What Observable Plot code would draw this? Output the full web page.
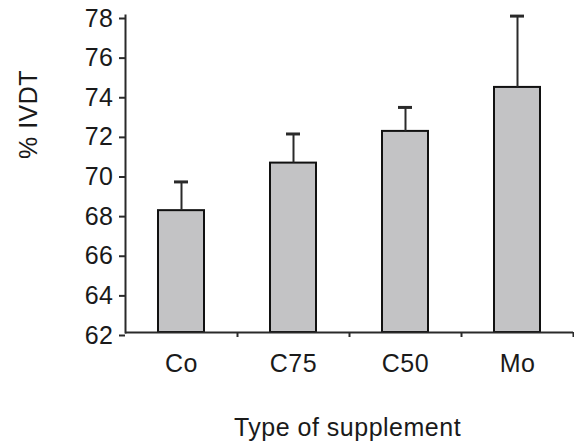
<!DOCTYPE html>
<html>
<head>
<meta charset="utf-8">
<script src="https://cdn.jsdelivr.net/npm/d3@7"></script>
<script src="https://cdn.jsdelivr.net/npm/@observablehq/plot@0.6"></script>
<style>
  html, body { margin: 0; padding: 0; background: #fff; }
  #chart { width: 574px; height: 442px; }
</style>
</head>
<body>
<div id="chart"></div>
<script>
const categories = ["Co", "C75", "C50", "Mo"];
const means = [68.15, 70.55, 72.15, 74.37];
const errors = [1.45, 1.47, 1.21, 3.6];
const yTicks = [62, 64, 66, 68, 70, 72, 74, 76, 78];
const yLabel = "% IVDT";
const xLabel = "Type of supplement";

const data = categories.map((c, i) => ({cat: c, mean: means[i], top: means[i] + errors[i]}));

const W = 574, H = 442, ML = 125, MR = 1, MT = 15, MB = 110;
const step = (W - ML - MR) / categories.length;
const barHalf = 23;
const capHalf = 7;
const ink = "#2a2a2a";

const chart = Plot.plot({
  width: W,
  height: H,
  marginLeft: ML,
  marginRight: MR,
  marginTop: MT,
  marginBottom: MB,
  style: {fontFamily: "Arial, 'Liberation Sans', sans-serif", fontSize: "25px", letterSpacing: "0.5px", color: "#1a1a1a", background: "#fff"},
  x: {domain: categories, padding: 0, axis: null},
  y: {domain: [62, 78], ticks: yTicks, axis: null},
  marks: [
    Plot.barY(data, {x: "cat", y1: 62, y2: "mean", fill: "#c3c3c5", stroke: "#111", strokeWidth: 2,
      insetLeft: step / 2 - barHalf, insetRight: step / 2 - barHalf}),
    Plot.ruleX(data, {x: "cat", y1: "mean", y2: "top", stroke: ink, strokeWidth: 2}),
    Plot.tickY(data, {x: "cat", y: "top", stroke: ink, strokeWidth: 3,
      insetLeft: step / 2 - capHalf, insetRight: step / 2 - capHalf}),
    Plot.ruleY([62], {stroke: ink, strokeWidth: 2}),
    Plot.frame({anchor: "left", stroke: ink, strokeWidth: 2}),
    Plot.axisY({ticks: yTicks, tickSize: 6, tickPadding: 6, stroke: ink, strokeWidth: 2, dy: 3, label: null, fontSize: 25}),
    Plot.axisX({tickSize: 0, tickPadding: 22, label: null, fontSize: 25}),
    Plot.axisX({tickSize: 5, tickFormat: () => "", dx: step / 2, stroke: ink, strokeWidth: 2, label: null}),
    Plot.text([yLabel], {frameAnchor: "left", rotate: -90, dx: -97, dy: -15, fontSize: 25, fill: "#1a1a1a"}),
    Plot.text([xLabel], {frameAnchor: "bottom", dy: 95, dx: -2, fontSize: 25, fill: "#1a1a1a", lineAnchor: "middle"})
  ]
});
document.getElementById("chart").appendChild(chart);
</script>
</body>
</html>
